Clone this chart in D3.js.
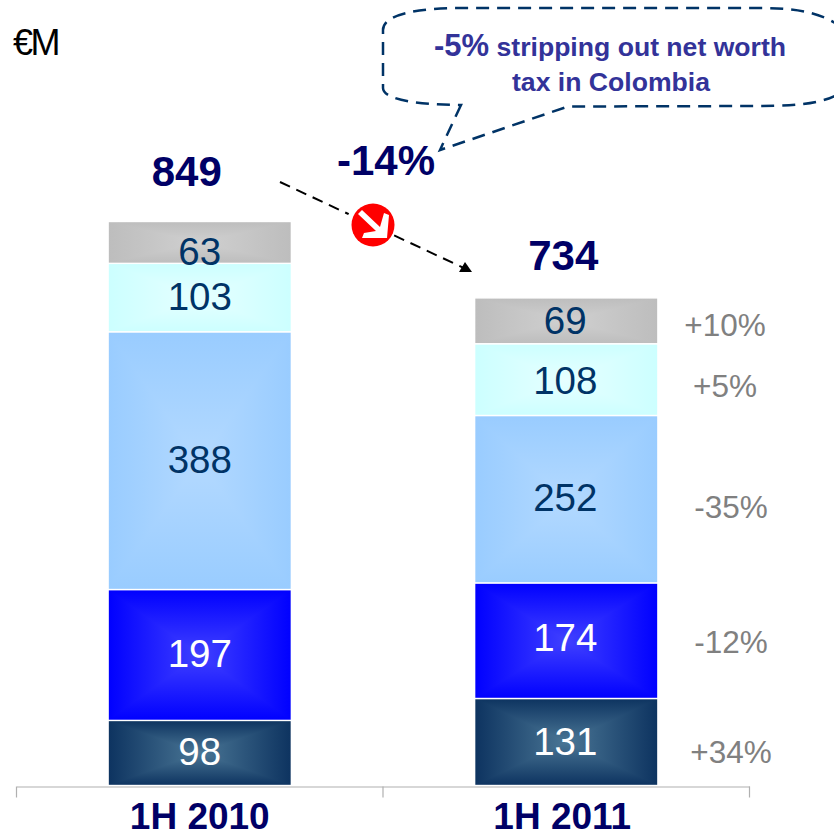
<!DOCTYPE html>
<html>
<head>
<meta charset="utf-8">
<script src="https://cdn.jsdelivr.net/npm/d3@7/dist/d3.min.js"></script>
<style>
html,body{margin:0;padding:0;background:#fff;}
svg{display:block;}
text{font-family:"Liberation Sans",Arial,sans-serif;}
</style>
</head>
<body>
<svg id="c" width="834" height="835"></svg>
<script>
const periods = ["1H 2010", "1H 2011"];
const seriesKeys = ["s1", "s2", "s3", "s4", "s5"];
const s1 = [98, 131];
const s2 = [197, 174];
const s3 = [388, 252];
const s4 = [103, 108];
const s5 = [63, 69];
const totals = [849, 734];
const changes = ["+34%", "-12%", "-35%", "+5%", "+10%"];
const unitLabel = "€M";
const overallChange = "-14%";
const noteLine1Lead = "-5%";
const noteLine1Rest = " stripping out net worth";
const noteLine2 = "tax in Colombia";

const axisY = 785.5;
const yTop = 221.5;
const svg = d3.select("#c");
const defs = svg.append("defs");

const x = d3.scaleBand().domain(periods).range([16.5, 749.5]).paddingInner(0.5).paddingOuter(0.25);
const y = d3.scaleLinear().domain([0, 849]).range([axisY, yTop]);

const fills = [
  {edge:"#0d3360", mid:"#4a7695", text:"#ffffff"},
  {edge:"#0000ff", mid:"#4040ff", text:"#ffffff"},
  {edge:"#99ccff", mid:"#b3d9ff", text:"#003366"},
  {edge:"#ccffff", mid:"#e6ffff", text:"#003366"},
  {edge:"#bdbdbd", mid:"#d0d0d0", text:"#003366"}
];
// a rectangular "path" gradient: four triangles, each fading from its edge to the middle
const sides = [
  {k:"t", x1:0, y1:0, x2:0, y2:1},
  {k:"b", x1:0, y1:1, x2:0, y2:0},
  {k:"l", x1:0, y1:0, x2:1, y2:0},
  {k:"r", x1:1, y1:0, x2:0, y2:0}
];
fills.forEach((f,i)=>{
  sides.forEach(s=>{
    const g = defs.append("linearGradient").attr("id",`g${i}${s.k}`)
      .attr("x1",s.x1).attr("y1",s.y1).attr("x2",s.x2).attr("y2",s.y2);
    g.append("stop").attr("offset","0%").attr("stop-color",f.edge);
    g.append("stop").attr("offset","100%").attr("stop-color",f.mid);
  });
});

const table = periods.map((p,i)=>({period:p,s1:s1[i],s2:s2[i],s3:s3[i],s4:s4[i],s5:s5[i]}));
const stacked = d3.stack().keys(seriesKeys)(table);

// label baseline adjustments from the segment middle, as in the source slide
const labelShift = [
  [12, 13],
  [12, 10],
  [12, 12],
  [12, 14],
  [23, 13]
];

function tri(d, k){
  const l = x(d.data.period), r = l + x.bandwidth(), t = y(d[1]), b = y(d[0]);
  const cx = (l+r)/2, cy = (t+b)/2;
  const c = {t:[[l,t],[r,t]], b:[[l,b],[r,b]], l:[[l,t],[l,b]], r:[[r,t],[r,b]]}[k];
  return `M${c[0]}L${c[1]}L${cx},${cy}Z`;
}

stacked.forEach((layer,li)=>{
  const g = svg.append("g");
  g.selectAll("rect").data(layer).join("rect")
    .attr("x",d=>x(d.data.period))
    .attr("width",x.bandwidth())
    .attr("y",d=>y(d[1]))
    .attr("height",d=>y(d[0])-y(d[1]))
    .attr("fill",fills[li].mid);
  sides.forEach(s=>{
    g.selectAll("path."+s.k).data(layer).join("path").attr("class",s.k)
      .attr("d",d=>tri(d,s.k))
      .attr("fill",`url(#g${li}${s.k})`)
      .attr("shape-rendering","crispEdges");
  });
  g.selectAll("rect.o").data(layer).join("rect").attr("class","o")
    .attr("x",d=>x(d.data.period))
    .attr("width",x.bandwidth())
    .attr("y",d=>y(d[1]))
    .attr("height",d=>y(d[0])-y(d[1]))
    .attr("fill","none")
    .attr("stroke","#fff").attr("stroke-width",1.4);
  g.selectAll("text").data(layer).join("text")
    .attr("x",(d,i)=>x(d.data.period)+x.bandwidth()/2-(i===1?1:0))
    .attr("y",(d,i)=>(y(d[0])+y(d[1]))/2+labelShift[li][i])
    .attr("text-anchor","middle")
    .attr("font-size",38.5)
    .attr("fill",fills[li].text)
    .text(d=>d[1]-d[0]);
});

// axis
const axisG = svg.append("g").attr("transform",`translate(0,${axisY+1})`)
  .call(d3.axisBottom(x).tickSize(0));
axisG.select(".domain").attr("stroke","#b0b0b0").attr("stroke-width",1.2);
axisG.selectAll("text").attr("font-size",37).attr("font-weight","bold").attr("fill","#000066")
  .attr("font-family","'Liberation Sans',Arial,sans-serif").attr("dy",0)
  .attr("y",42)
  .attr("x",(d,i)=>i===0?0:-4);
const cellEdges = [x.range()[0], x(periods[1])-(x.step()-x.bandwidth())/2, x.range()[1]];
axisG.selectAll("line.edge").data(cellEdges).join("line").attr("class","edge")
  .attr("x1",d=>d).attr("x2",d=>d).attr("y1",0).attr("y2",11)
  .attr("stroke","#b0b0b0").attr("stroke-width",1.2);

// totals
svg.selectAll("text.total").data(totals).join("text").attr("class","total")
  .attr("x",(d,i)=>x(periods[i])+x.bandwidth()/2+(i===0?-13:-3))
  .attr("y",(d,i)=>i===0?186:270)
  .attr("text-anchor","middle").attr("font-size",42).attr("font-weight","bold").attr("fill","#000066")
  .text(d=>d);

// changes
const changePos = [[731,763],[731,653],[731,518],[725,397],[725,336]];
svg.selectAll("text.chg").data(changes).join("text").attr("class","chg")
  .attr("x",(d,i)=>changePos[i][0]).attr("y",(d,i)=>changePos[i][1])
  .attr("text-anchor","middle").attr("font-size",31.5).attr("fill","#808080")
  .text(d=>d);

// unit
svg.append("text").attr("x",13).attr("y",55).attr("font-size",36).attr("letter-spacing",-2.5)
  .attr("fill","#000").text(unitLabel);

// -14%
svg.append("text").attr("x",386).attr("y",175).attr("text-anchor","middle")
  .attr("font-size",42).attr("font-weight","bold").attr("fill","#000066").text(overallChange);

// arrow
svg.append("line").attr("x1",280).attr("y1",182).attr("x2",466).attr("y2",269)
  .attr("stroke","#000").attr("stroke-width",2).attr("stroke-dasharray","11 7");
svg.append("path").attr("d","M465,262L472,272L459,272Z").attr("fill","#000");

// red badge
svg.append("circle").attr("cx",371).attr("cy",225).attr("r",25).attr("fill","#fff");
svg.append("circle").attr("cx",373).attr("cy",225).attr("r",21.5).attr("fill","#ff0000");
svg.append("path").attr("d","M358,214L362,210L380,227L384,213L389,215L387,238L362,238L364,233L376,231Z")
  .attr("fill","#fff");

// callout
svg.append("path")
  .attr("d","M461,105L440,150L568,106.5L760,106C800,106 825,103 842,92L842,28C825,14 800,8 760,8L460,8C420,8 383,14 383,30L383,88C383,100 420,105 461,105Z")
  .attr("fill","none").attr("stroke","#003366").attr("stroke-width",2.5).attr("stroke-dasharray","13 8");
const note = svg.append("text").attr("x",610).attr("y",56).attr("text-anchor","middle")
  .attr("font-size",26.6).attr("font-weight","bold").attr("fill","#333399");
note.append("tspan").attr("font-size",31).text(noteLine1Lead);
note.append("tspan").text(noteLine1Rest);
svg.append("text").attr("x",611).attr("y",91).attr("text-anchor","middle")
  .attr("font-size",26.6).attr("font-weight","bold").attr("fill","#333399").text(noteLine2);
</script>
</body>
</html>
